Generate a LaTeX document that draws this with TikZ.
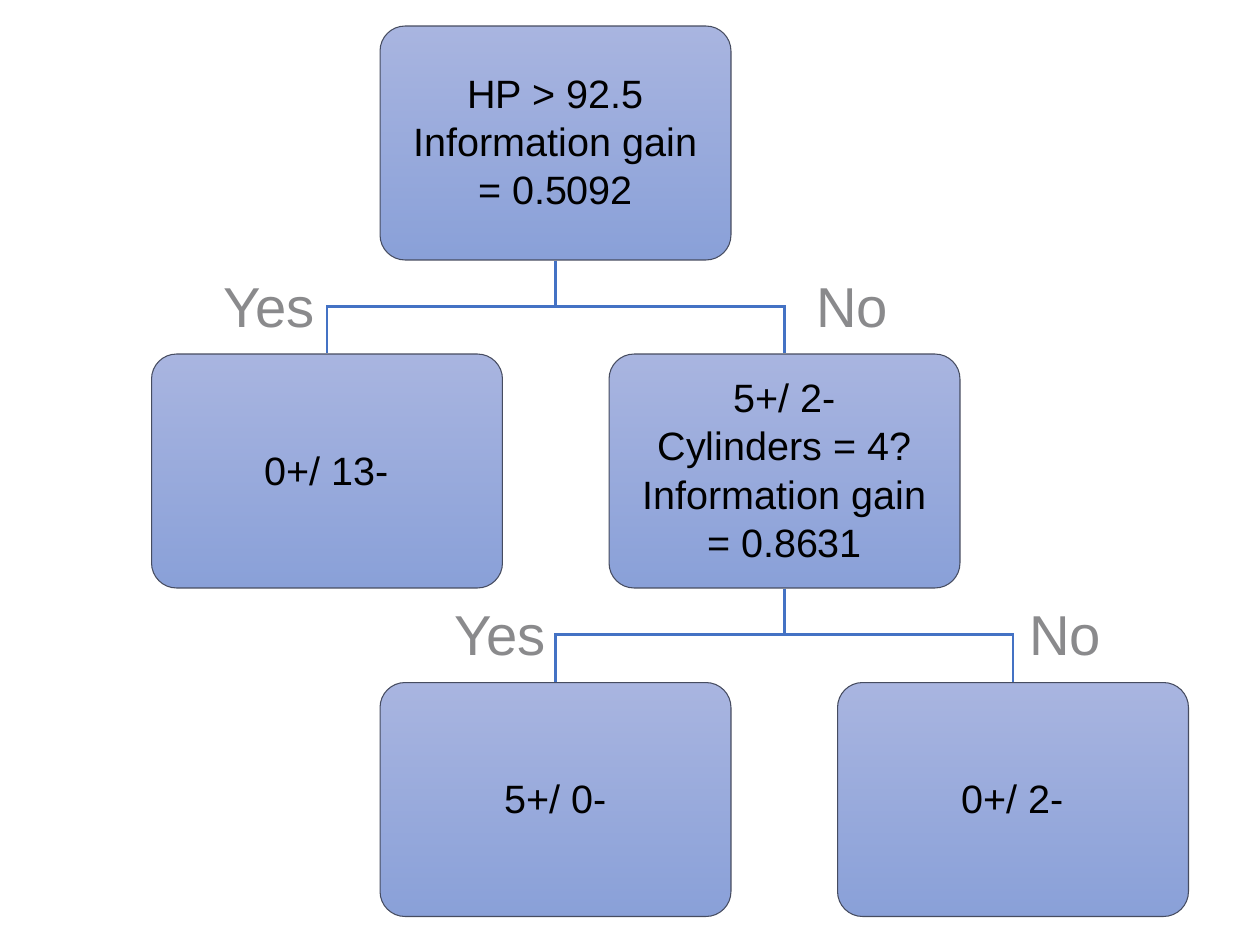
\documentclass[tikz,border=0pt]{standalone}
\usepackage{fontspec}
\setmainfont{Liberation Sans}
\usepackage{tikz}
\definecolor{boxTop}{RGB}{169, 181, 224}
\definecolor{boxBottom}{RGB}{137, 160, 216}
\definecolor{boxEdge}{RGB}{70, 76, 96}
\definecolor{linkBlue}{RGB}{68, 114, 196}
\definecolor{answerGrey}{RGB}{138, 138, 140}
\newcommand{\boxWidth}{7.02cm}
\newcommand{\boxHeight}{4.68cm}
\newcommand{\lGain}{Information gain}

\begin{document}
\begin{tikzpicture} [
        x=0.02cm, y=-0.02cm,
        box/.style={draw=boxEdge, line width=0.6pt, rounded corners=0.5cm, top color=boxTop, bottom color=boxBottom,
            minimum width=\boxWidth, minimum height=\boxHeight, align=center,
            font=\fontsize{22.5}{27.5}\selectfont},
        link/.style={draw=linkBlue, line width=1.2pt},
        answer/.style={text=answerGrey, font=\fontsize{32}{36}\selectfont},
    ]
    \useasboundingbox (0,0) rectangle (1254,946);

    % tree nodes
    \node[box] (root) at (555.5,143) {HP > 92.5\\\lGain\\= 0.5092};
    \node[box] (left1) at (327,471) {0+/ 13-};
    \node[box] (right1) at (784.5,471) {5+/ 2-\\Cylinders = 4?\\\lGain\\= 0.8631};
    \node[box] (left2) at (555.5,799.5) {5+/ 0-};
    \node[box] (right2) at (1013,799.5) {0+/ 2-};

    % branches
    \foreach \parent/\child in {root/left1, root/right1, right1/left2, right1/right2} {
        \draw[link] (\parent.south) -- ++(0,46) -| (\child.north);
    }

    % answers
    \node[answer] (yes1) at (269,308) {Yes};
    \node[answer] (no1) at (852,308) {No};
    \node[answer] (yes2) at (500,636) {Yes};
    \node[answer] (no2) at (1065,636) {No};
\end{tikzpicture}
\end{document}
